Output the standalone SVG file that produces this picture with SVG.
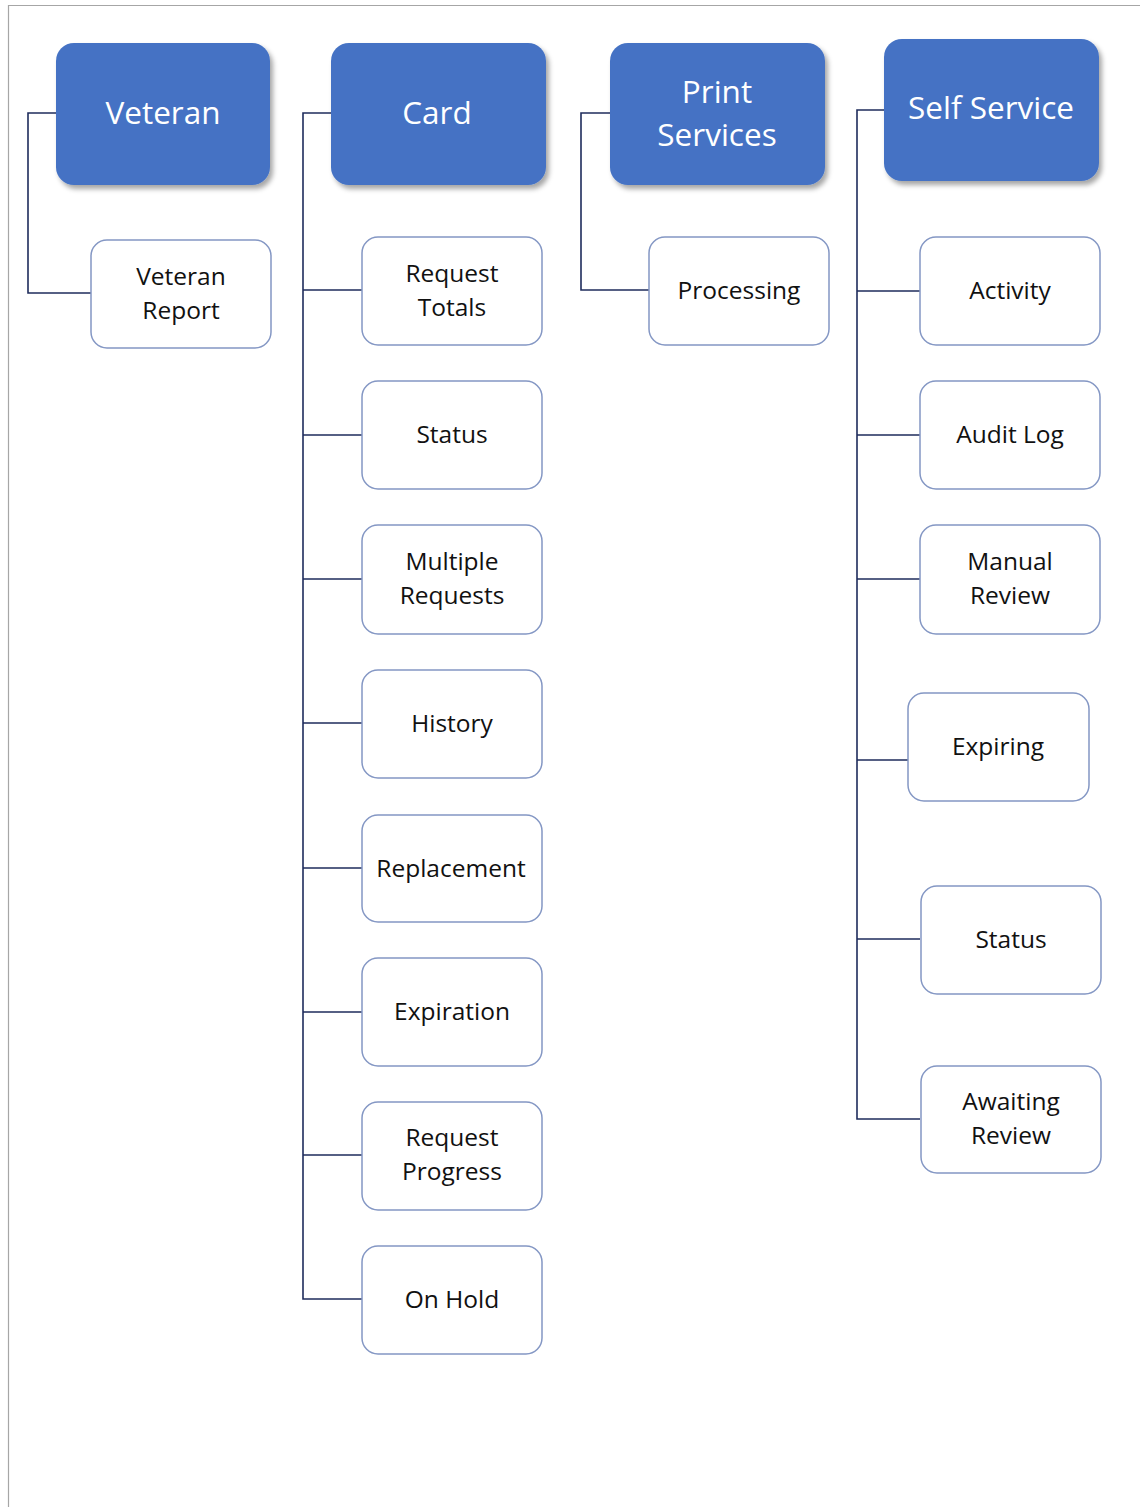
<svg xmlns="http://www.w3.org/2000/svg" width="1140" height="1507" viewBox="0 0 1140 1507">
<defs>
<filter id="sh" x="-10%" y="-10%" width="125%" height="130%">
<feDropShadow dx="3" dy="4" stdDeviation="2.5" flood-color="#000" flood-opacity="0.35"/>
</filter>
<style>
.hdr{fill:#4472C4;filter:url(#sh)}
.ht{fill:#fff;font-family:"Open Sans",sans-serif;font-size:31.5px;text-anchor:middle}
.box{fill:#fff;stroke:#8497C4;stroke-width:1.5}
.bt{fill:#111;font-family:"Open Sans",sans-serif;font-size:24.5px;text-anchor:middle}
.ln{fill:none;stroke:#1F2C5C;stroke-width:1.6}
</style>
</defs>
<rect width="1140" height="1507" fill="#fff"/>
<path d="M8.5,1507 V5.5 H1140" fill="none" stroke="#A6A6A6" stroke-width="1.2"/>

<g id="connectors">
<path class="ln" d="M56,113 H28 V293 H91"/>
<path class="ln" d="M331,113 H303 V1299 H362"/>
<path class="ln" d="M303,290 H362 M303,435 H362 M303,579 H362 M303,723 H362 M303,868 H362 M303,1012 H362 M303,1155 H362"/>
<path class="ln" d="M610,113 H581 V290 H649"/>
<path class="ln" d="M884,110 H857 V1119 H920"/>
<path class="ln" d="M857,291 H920 M857,435 H920 M857,579 H920 M857,760 H908 M857,939 H920"/>
</g>

<g id="veteran"><rect class="hdr" x="56" y="43" width="214" height="142" rx="18"/><text class="ht" x="163" y="124">Veteran</text></g>
<g id="card"><rect class="hdr" x="331" y="43" width="215" height="142" rx="18"/><text class="ht" x="437" y="124">Card</text></g>
<g id="print-services"><rect class="hdr" x="610" y="43" width="215" height="142" rx="18"/><text class="ht" x="717" y="103">Print</text><text class="ht" x="717" y="146">Services</text></g>
<g id="self-service"><rect class="hdr" x="884" y="39" width="215" height="142" rx="18"/><text class="ht" x="991" y="119">Self Service</text></g>

<g id="veteran-report"><rect class="box" x="91" y="240" width="180" height="108" rx="16"/><text class="bt" x="181" y="285">Veteran</text><text class="bt" x="181" y="319">Report</text></g>

<g id="request-totals"><rect class="box" x="362" y="237" width="180" height="108" rx="16"/><text class="bt" x="452" y="282">Request</text><text class="bt" x="452" y="316">Totals</text></g>
<g id="card-status"><rect class="box" x="362" y="381" width="180" height="108" rx="16"/><text class="bt" x="452" y="443">Status</text></g>
<g id="multiple-requests"><rect class="box" x="362" y="525" width="180" height="109" rx="16"/><text class="bt" x="452" y="570">Multiple</text><text class="bt" x="452" y="604">Requests</text></g>
<g id="history"><rect class="box" x="362" y="670" width="180" height="108" rx="16"/><text class="bt" x="452" y="732">History</text></g>
<g id="replacement"><rect class="box" x="362" y="815" width="180" height="107" rx="16"/><text class="bt" x="451" y="877">Replacement</text></g>
<g id="expiration"><rect class="box" x="362" y="958" width="180" height="108" rx="16"/><text class="bt" x="452" y="1020">Expiration</text></g>
<g id="request-progress"><rect class="box" x="362" y="1102" width="180" height="108" rx="16"/><text class="bt" x="452" y="1146">Request</text><text class="bt" x="452" y="1180">Progress</text></g>
<g id="on-hold"><rect class="box" x="362" y="1246" width="180" height="108" rx="16"/><text class="bt" x="452" y="1308">On Hold</text></g>

<g id="processing"><rect class="box" x="649" y="237" width="180" height="108" rx="16"/><text class="bt" x="739" y="299">Processing</text></g>

<g id="activity"><rect class="box" x="920" y="237" width="180" height="108" rx="16"/><text class="bt" x="1010" y="299">Activity</text></g>
<g id="audit-log"><rect class="box" x="920" y="381" width="180" height="108" rx="16"/><text class="bt" x="1010" y="443">Audit Log</text></g>
<g id="manual-review"><rect class="box" x="920" y="525" width="180" height="109" rx="16"/><text class="bt" x="1010" y="570">Manual</text><text class="bt" x="1010" y="604">Review</text></g>
<g id="expiring"><rect class="box" x="908" y="693" width="181" height="108" rx="16"/><text class="bt" x="998" y="755">Expiring</text></g>
<g id="ss-status"><rect class="box" x="921" y="886" width="180" height="108" rx="16"/><text class="bt" x="1011" y="948">Status</text></g>
<g id="awaiting-review"><rect class="box" x="921" y="1066" width="180" height="107" rx="16"/><text class="bt" x="1011" y="1110">Awaiting</text><text class="bt" x="1011" y="1144">Review</text></g>
</svg>
